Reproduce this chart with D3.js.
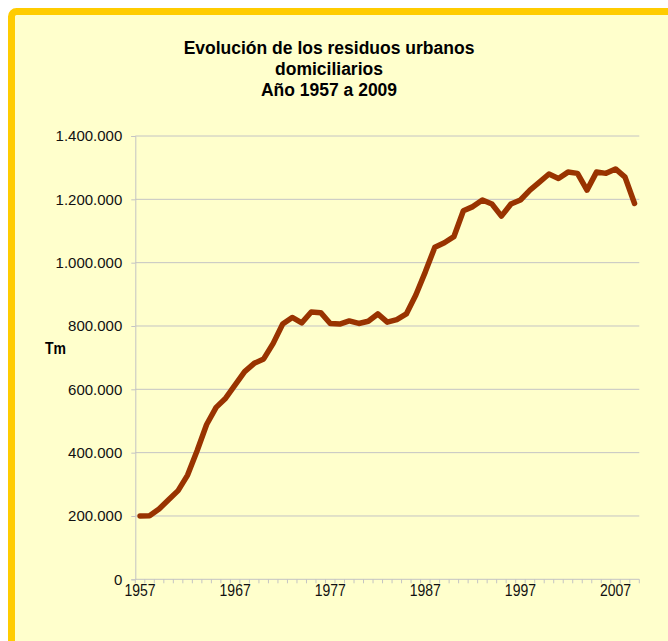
<!DOCTYPE html>
<html>
<head>
<meta charset="utf-8">
<script src="https://cdn.jsdelivr.net/npm/d3@7"></script>
<style>
  body { margin: 0; background: #ffffff; }
  text { font-family: "Liberation Sans", Arial, sans-serif; }
</style>
</head>
<body>
<script>
// data (toneladas por año)
var years = d3.range(1957, 2010);
var residuos = [
  200000, 201000, 222000, 251000, 280000, 329000, 406000, 489000, 543000, 572000,
  614000, 656000, 682000, 696000, 745000, 806000, 827000, 810000, 844000, 842000,
  808000, 806000, 816000, 808000, 815000, 838000, 812000, 820000, 838000, 898000,
  971000, 1049000, 1063000, 1082000, 1164000, 1177000, 1198000, 1185000, 1147000, 1185000,
  1198000, 1229000, 1254000, 1280000, 1266000, 1286000, 1282000, 1229000, 1286000, 1282000,
  1296000, 1270000, 1187000
];
var yTicks = [0, 200000, 400000, 600000, 800000, 1000000, 1200000, 1400000];
var xLabels = [1957, 1967, 1977, 1987, 1997, 2007];
var titleLines = ["Evolución de los residuos urbanos", "domiciliarios", "Año 1957 a 2009"];

var W = 668, H = 641;
var plot = {left: 135.3, right: 639.3, top: 136, bottom: 579.3};
var stretch = 1.15; // axis text in the original is a bit taller than wide

var svg = d3.select("body").append("svg")
    .attr("width", W)
    .attr("height", H);

// chart box
svg.append("rect")
    .attr("x", 11.5)
    .attr("y", 11.5)
    .attr("width", W + 20)
    .attr("height", H + 20)
    .attr("rx", 5)
    .style("fill", "#ffffcc")
    .style("stroke", "#ffcc00")
    .style("stroke-width", 7);

var x = d3.scaleBand()
    .domain(years)
    .range([plot.left, plot.right])
    .padding(0);

var y = d3.scaleLinear()
    .domain([0, 1400000])
    .range([plot.bottom, plot.top]);

var fmt = function(d) {
  return d3.format(",")(d).replace(/,/g, ".");
};

function tall(sel, px, py, k) {
  sel.attr("transform", function(d, i) {
    return "translate(" + px(d, i) + "," + py(d, i) + ") scale(1," + k + ")";
  });
}

// gridlines
svg.append("g")
    .selectAll("line")
    .data(yTicks.filter(function(d) { return d > 0; }))
    .enter().append("line")
    .attr("x1", plot.left)
    .attr("x2", plot.right)
    .attr("y1", function(d) { return y(d); })
    .attr("y2", function(d) { return y(d); })
    .style("stroke", "#c4c4c4")
    .style("stroke-width", 1);

// y axis
var yAxis = svg.append("g")
    .attr("transform", "translate(" + plot.left + ",0)")
    .call(d3.axisLeft(y).tickValues(yTicks).tickFormat(fmt).tickSize(4).tickPadding(9));
yAxis.select(".domain").style("stroke", "#c4c4c4");
yAxis.selectAll(".tick line").style("stroke", "#c4c4c4");
yAxis.selectAll("text")
    .style("font-size", "15px")
    .style("fill", "#111");

// x axis: ticks between categories, labels every ten years
var bounds = years.map(function(d) { return x(d); }).concat([plot.right]);
var xg = svg.append("g");
xg.append("line")
    .attr("x1", plot.left)
    .attr("x2", plot.right)
    .attr("y1", plot.bottom)
    .attr("y2", plot.bottom)
    .style("stroke", "#c4c4c4");
xg.selectAll("line.tk")
    .data(bounds)
    .enter().append("line")
    .attr("class", "tk")
    .attr("x1", function(d) { return d; })
    .attr("x2", function(d) { return d; })
    .attr("y1", plot.bottom)
    .attr("y2", plot.bottom + 4)
    .style("stroke", "#c4c4c4");
xg.selectAll("text")
    .data(xLabels)
    .enter().append("text")
    .attr("text-anchor", "middle")
    .style("font-size", "14px")
    .style("fill", "#111")
    .text(function(d) { return d; })
    .call(tall, function(d) { return x(d) + x.bandwidth() / 2; }, function() { return 595.5; }, stretch);

// the series
var line = d3.line()
    .x(function(d, i) { return x(years[i]) + x.bandwidth() / 2; })
    .y(function(d) { return y(d); });

svg.append("path")
    .datum(residuos)
    .attr("d", line)
    .style("fill", "none")
    .style("stroke", "#993300")
    .style("stroke-width", 5.5)
    .style("stroke-linejoin", "round")
    .style("stroke-linecap", "round");

// title
svg.append("g").selectAll("text")
    .data(titleLines)
    .enter().append("text")
    .attr("x", 329)
    .attr("y", function(d, i) { return 54 + i * 20.8; })
    .attr("text-anchor", "middle")
    .style("font-size", "17.5px")
    .style("font-weight", "bold")
    .style("fill", "#000")
    .text(function(d) { return d; });

// unit label
svg.append("text")
    .style("font-size", "14px")
    .style("font-weight", "bold")
    .style("fill", "#000")
    .text("Tm")
    .call(tall, function() { return 45; }, function() { return 354; }, stretch);
</script>
</body>
</html>
